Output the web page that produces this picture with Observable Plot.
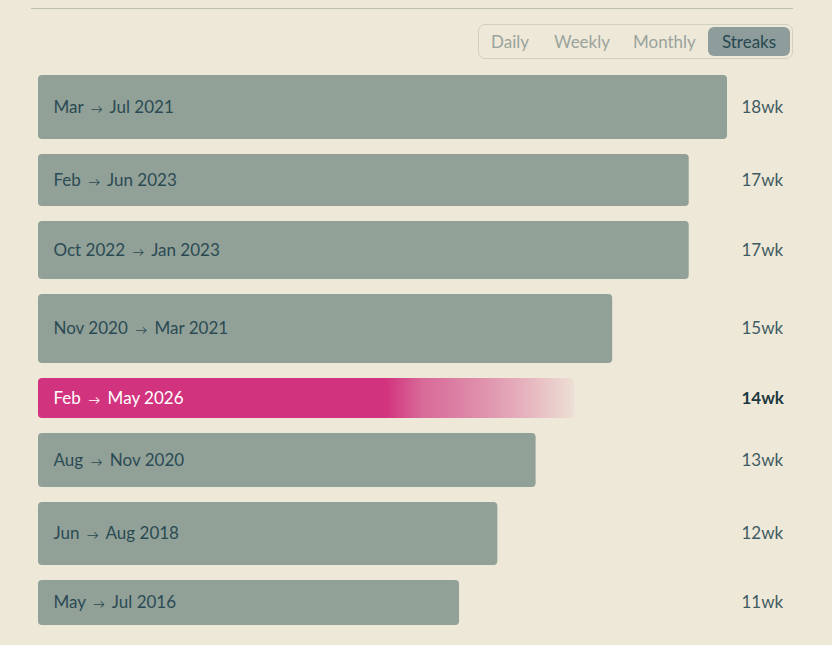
<!DOCTYPE html>
<html>
<head>
<meta charset="utf-8">
<script src="https://cdn.jsdelivr.net/npm/d3@7"></script>
<script src="https://cdn.jsdelivr.net/npm/@observablehq/plot@0.6"></script>
<style>
  html, body { margin: 0; padding: 0; background: #EEE8D8; }
  body { width: 832px; height: 645px; overflow: hidden; font-family: Lato, "Open Sans", sans-serif; }
  #header { position: relative; width: 832px; height: 65px; }
  #rule { position: absolute; left: 31px; top: 8px; width: 762px; height: 1px; background: #BEC0AE; }
  #toggle { position: absolute; left: 478px; top: 24px; width: 313px; height: 33px; border: 1px solid #CFD1BE; border-radius: 7px; box-sizing: content-box; }
  #toggle span { position: absolute; top: 0; height: 33px; line-height: 33px; font-size: 17px; color: #9AA49C; }
  #toggle span.active { top: 2px; height: 29px; line-height: 29px; background: #8E9D9B; color: #274750; border-radius: 6px; text-align: center; }
  #chart svg { display: block; }
</style>
</head>
<body>
<div id="header">
  <div id="rule"></div>
  <div id="toggle"></div>
</div>
<div id="chart"></div>
<script>
// ---- data ----
const tabs = ["Daily", "Weekly", "Monthly", "Streaks"];
const activeTab = "Streaks";
const periods = ["Mar → Jul 2021", "Feb → Jun 2023", "Oct 2022 → Jan 2023", "Nov 2020 → Mar 2021", "Feb → May 2026", "Aug → Nov 2020", "Jun → Aug 2018", "May → Jul 2016"];
const weeks = [18, 17, 17, 15, 14, 13, 12, 11];
const rowWeight = [6.4, 5.2, 5.8, 6.9, 4.0, 5.4, 6.3, 4.5];
const current = [false, false, false, false, true, false, false, false];
const gapUnits = 1.5;

// ---- toggle ----
const tabPos = [{left: 12}, {left: 75}, {left: 154}, {left: 229, width: 82}];
const toggle = document.getElementById("toggle");
tabs.forEach((t, i) => {
  const s = document.createElement("span");
  s.textContent = t;
  s.style.left = tabPos[i].left + "px";
  if (t === activeTab) { s.className = "active"; s.style.width = tabPos[i].width + "px"; }
  toggle.appendChild(s);
});

// ---- rows (stacked with gaps) ----
let acc = 0;
const rows = periods.map((p, i) => {
  const y1 = acc, y2 = acc + rowWeight[i];
  acc = y2 + gapUnits;
  return {period: p, weeks: weeks[i], y1, y2, ym: (y1 + y2) / 2, current: current[i]};
});
const total = acc - gapUnits;
const past = rows.filter(d => !d.current);
const now = rows.filter(d => d.current);

const plot = Plot.plot({
  width: 832,
  height: 580,
  marginLeft: 38,
  marginRight: 105,
  marginTop: 10,
  marginBottom: 20,
  style: {background: "transparent", fontFamily: "Lato, 'Open Sans', sans-serif"},
  x: {domain: [0, d3.max(weeks)], axis: null},
  y: {domain: [0, total], reverse: true, axis: null},
  marks: [
    Plot.rectX(past, {x1: 0, x2: "weeks", y1: "y1", y2: "y2", fill: "#91A198", rx: 4}),
    Plot.rectX(now, {x1: 0, x2: "weeks", y1: "y1", y2: "y2", fill: "url(#streakGrad)", rx: 4}),
    Plot.text(past, {x: 0, y: "ym", text: "period", textAnchor: "start", dx: 15, fontSize: 17, fill: "#2B4A53"}),
    Plot.text(now, {x: 0, y: "ym", text: "period", textAnchor: "start", dx: 15, fontSize: 17, fill: "#FFFFFF"}),
    Plot.text(past, {frameAnchor: "right", y: "ym", text: d => d.weeks + "wk", textAnchor: "start", dx: 14, fontSize: 17, fill: "#3E5C62"}),
    Plot.text(now, {frameAnchor: "right", y: "ym", text: d => d.weeks + "wk", textAnchor: "start", dx: 14, fontSize: 17, fontWeight: "bold", fill: "#1C3940"})
  ]
});

const defs = d3.select(plot).insert("defs", ":first-child");
const g = defs.append("linearGradient").attr("id", "streakGrad").attr("x1", "0").attr("x2", "1").attr("y1", "0").attr("y2", "0");
g.append("stop").attr("offset", "0.65").attr("stop-color", "#D2337E").attr("stop-opacity", 1);
g.append("stop").attr("offset", "0.72").attr("stop-color", "#D4558E").attr("stop-opacity", 0.85);
g.append("stop").attr("offset", "1").attr("stop-color", "#D2337E").attr("stop-opacity", 0.05);

// smaller arrow glyph, as in the reference
d3.select(plot).selectAll("text").each(function() {
  const el = d3.select(this);
  const t = el.text();
  if (!t.includes("→")) return;
  const parts = t.split("→");
  el.text(null);
  el.append("tspan").text(parts[0]);
  el.append("tspan").attr("font-size", 12).attr("dx", 3).text("→");
  el.append("tspan").attr("dx", 3).text(parts[1]);
});

document.getElementById("chart").appendChild(plot);
</script>
</body>
</html>
